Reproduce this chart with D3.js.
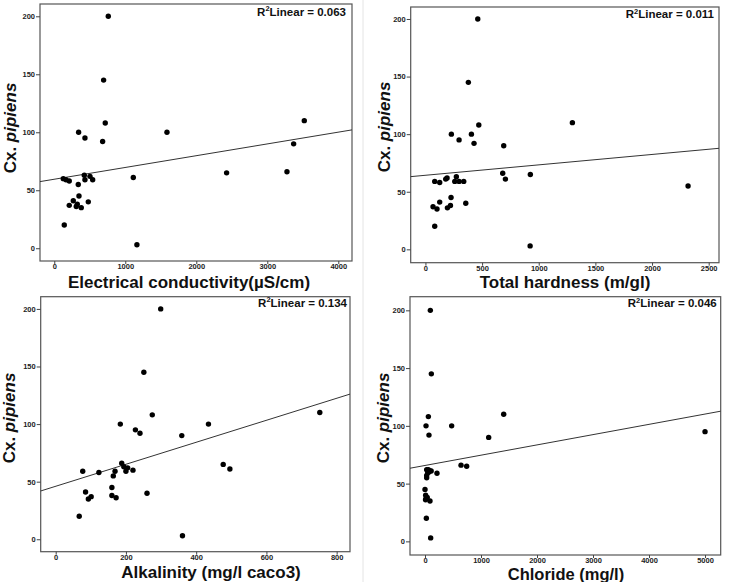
<!DOCTYPE html>
<html><head><meta charset="utf-8">
<script src="https://cdn.jsdelivr.net/npm/d3@7"></script>
<style>body{margin:0;background:#fff}svg{display:block}</style>
</head><body>
<svg id="c" width="730" height="582"></svg>
<script>
// ---- data (Cx. pipiens counts vs water parameters) ----
const yTicks = [0, 50, 100, 150, 200];

const ecX = [761,695,718,343,432,681,1587,3521,3371,2427,3277,1113,1164,127,165,211,338,423,432,503,541,348,268,211,324,380,479,141,310];
const ecY = [200,145,108,100,95,92,100,110,90,65,66,61,3,60,59,58,55,63,59,62,59,45,41,37,38,35,40,20,36];
const ecTicks = [0,1000,2000,3000,4000];
const ecFit = {intercept: 59.5, slope: 0.01015, r2: "0.063"};

const thX = [462,379,471,229,406,297,429,691,1297,682,706,926,924,2318,82,126,179,191,273,259,297,338,226,126,67,102,194,221,356,82];
const thY = [200,145,108,100,100,95,92,90,110,66,61,65,3,55,59,58,61,62,63,59,59,59,45,41,37,35,36,38,40,20];
const thTicks = [0,500,1000,1500,2000,2500];
const thFit = {intercept: 64.3, slope: 0.00904, r2: "0.011"};

const alX = [299,251,275,184,435,227,240,359,752,477,496,361,260,188,67,77,123,85,93,101,160,160,172,164,169,194,200,205,220];
const alY = [200,145,108,100,100,95,92,90,110,65,61,3,40,66,20,59,58,41,35,37,45,38,36,55,59,63,59,62,60];
const alTicks = [0,200,400,600,800];
const alFit = {intercept: 46.0, slope: 0.0955, r2: "0.134"};

const clX = [95,113,60,18,71,476,1405,1137,5000,643,744,214,101,30,89,48,30,30,60,110,0,12,18,40,89,24,10,70];
const clY = [200,145,108,100,92,100,110,90,95,66,65,59,3,62,61,59.5,57,55,62,61,45,40,37,38,35,20,36,60];
const clTicks = [0,1000,2000,3000,4000,5000];
const clFit = {intercept: 65.7, slope: 0.0089, r2: "0.046"};

// ---- layout ----
const panels = [
  {xs: ecX, ys: ecY, ticks: ecTicks, fit: ecFit, title: "Electrical conductivity(\u00B5S/cm)", tfs: 17,
   L:40, R:352, T:4, B:261, xd:[-201,4193], yd:[-11.0,210.6], tx:189, ty:287.5, ytx:15.5, yty:128, rx:346, ry:15.7},
  {xs: thX, ys: thY, ticks: thTicks, fit: thFit, title: "Total hardness (m/gl)", tfs: 17,
   L:410.7, R:719, T:7, B:262.7, xd:[-130,2591], yd:[-11.6,210.4], tx:565, ty:288, ytx:389.5, yty:127, rx:714, ry:18.3},
  {xs: alX, ys: alY, ticks: alTicks, fit: alFit, title: "Alkalinity (mg/l caco3)", tfs: 17,
   L:40.7, R:350, T:296.7, B:551.7, xd:[-42.7,838], yd:[-10.8,210.6], tx:211, ty:577.5, ytx:15, yty:418, rx:347, ry:306.7},
  {xs: clX, ys: clY, ticks: clTicks, fit: clFit, title: "Chloride (mg/l)", tfs: 16.5,
   L:410, R:720.7, T:296.7, B:555, xd:[-268,5280], yd:[-11.8,211.8], tx:566, ty:580, ytx:388.5, yty:418, rx:716.7, ry:307.3}
];

const svg = d3.select("#c");
const font = "'Liberation Sans', Arial, Helvetica, sans-serif";

// faint separator line
svg.append("line").attr("x1",363).attr("x2",363).attr("y1",0).attr("y2",582)
  .attr("stroke","#e4e4e4").attr("stroke-width",1);

panels.forEach(p => {
  const x = d3.scaleLinear().domain(p.xd).range([p.L, p.R]);
  const y = d3.scaleLinear().domain(p.yd).range([p.B, p.T]);
  const g = svg.append("g");

  // frame
  g.append("rect").attr("x", p.L).attr("y", p.T).attr("width", p.R - p.L).attr("height", p.B - p.T)
    .attr("fill", "none").attr("stroke", "#555").attr("stroke-width", 1.2);

  // axes
  const ya = d3.axisLeft(y).tickValues(yTicks).tickSize(4).tickPadding(1).tickFormat(d3.format("d"));
  const gy = g.append("g").attr("transform", `translate(${p.L},0)`).call(ya);
  const xa = d3.axisBottom(x).tickValues(p.ticks).tickSize(3).tickPadding(0).tickFormat(d3.format("d"));
  const gx = g.append("g").attr("transform", `translate(0,${p.B})`).call(xa);
  [gx, gy].forEach(a => {
    a.select(".domain").remove();
    a.selectAll(".tick line").attr("stroke", "#444");
    a.selectAll(".tick text").attr("fill", "#222").style("font-family", font)
      .style("font-size", "7.5px").style("font-weight", "bold");
  });

  // regression line
  const x0 = p.xd[0], x1 = p.xd[1];
  g.append("line")
    .attr("x1", x(x0)).attr("y1", y(p.fit.intercept + p.fit.slope * x0))
    .attr("x2", x(x1)).attr("y2", y(p.fit.intercept + p.fit.slope * x1))
    .attr("stroke", "#333").attr("stroke-width", 1);

  // points
  g.selectAll("circle.pt").data(p.xs.map((v, i) => [v, p.ys[i]])).join("circle")
    .attr("class", "pt").attr("cx", d => x(d[0])).attr("cy", d => y(d[1]))
    .attr("r", 2.7).attr("fill", "#000");

  // R2 label
  const rt = g.append("text").attr("x", p.rx).attr("y", p.ry).attr("text-anchor", "end")
    .style("font-family", font).style("font-size", "11.5px").style("font-weight", "bold").attr("fill", "#111");
  rt.append("tspan").text("R");
  rt.append("tspan").attr("dy", -4.5).style("font-size", "7.5px").text("2");
  rt.append("tspan").attr("dy", 4.5).text("Linear = " + p.fit.r2);

  // x title
  g.append("text").attr("x", p.tx).attr("y", p.ty).attr("text-anchor", "middle")
    .style("font-family", font).style("font-size", p.tfs + "px").style("font-weight", "bold").attr("fill", "#111")
    .text(p.title);

  // y title
  const yt = g.append("text").attr("transform", `translate(${p.ytx},${p.yty}) rotate(-90)`)
    .attr("text-anchor", "middle").style("font-family", font).style("font-size", "17px")
    .style("font-weight", "bold").attr("fill", "#111");
  yt.append("tspan").text("Cx. ");
  yt.append("tspan").style("font-style", "italic").text("pipiens");
});
</script>
</body></html>
